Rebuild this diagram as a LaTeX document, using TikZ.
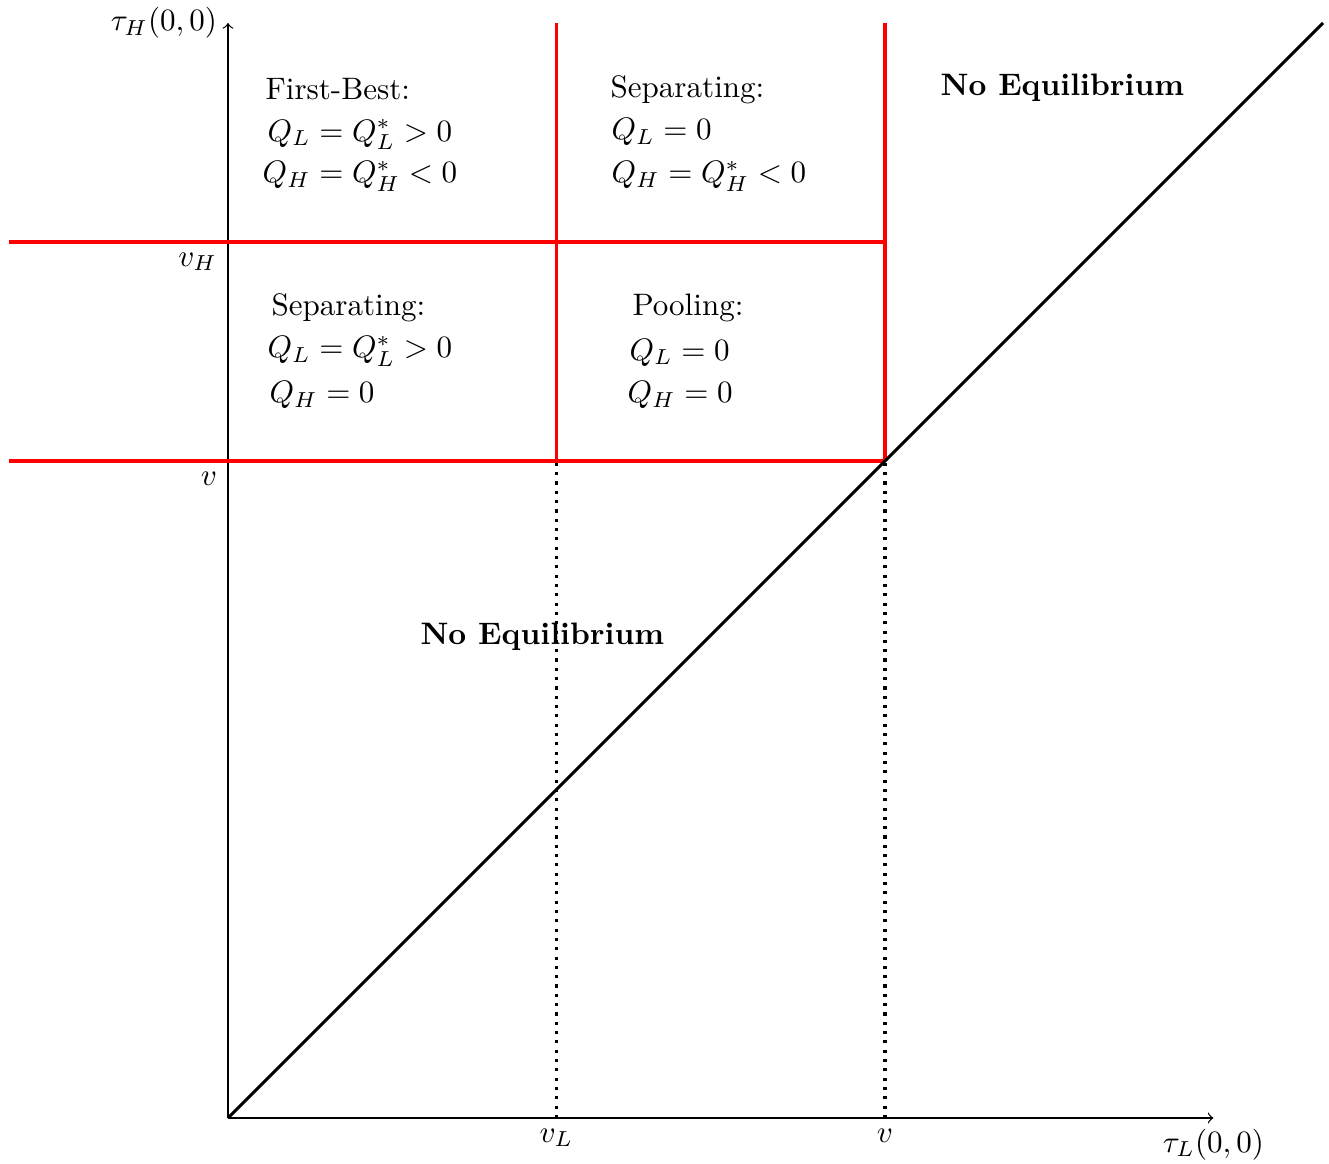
\documentclass[tikz,border=0pt]{standalone}
\begin{document}
\begin{tikzpicture}[x=1.2395cm,y=1.2395cm,
  lab/.style={anchor=base west, inner sep=0pt},
  redline/.style={red, line width=1pt},
  diag/.style={black, line width=1pt},
  dotline/.style={black, line width=1pt, dotted},
  axis/.style={->}]
\useasboundingbox (-2.082,-0.420) rectangle (10.055,10.210);
% coordinates
\coordinate (O) at (0,0);
\coordinate (xend) at (9,0);
\coordinate (yend) at (0,10);
\coordinate (dend) at (10,10);
\coordinate (hHa) at (-2,8);
\coordinate (hHb) at (6,8);
\coordinate (hVa) at (-2,6);
\coordinate (hVb) at (6,6);
\coordinate (vLb) at (3,6);
\coordinate (vLt) at (3,10);
\coordinate (vVt) at (6,10);
\coordinate (vLa) at (3,0);
\coordinate (vVa) at (6,0);
\coordinate (yH) at (0,8);
\coordinate (yV) at (0,6);
% axes
\draw[axis] (O) -- (xend);
\draw[axis] (O) -- (yend);
\node[below] (xlab) at (xend) {$\tau_L(0,0)$};
\node[left] (ylab) at (yend) {$\tau_H(0,0)$};
\node[below left] (vHlab) at (yH) {$v_H$};
\node[below left] (vlab) at (yV) {$v$};
\node[below] (vLlab) at (vLa) {$v_L$};
\node[below] (vxlab) at (vVa) {$v$};
% dotted
\draw[dotline] (vLa) -- (vLb);
\draw[dotline] (vVa) -- (hVb);
% red region lines
\draw[redline] (hHa) -- (hHb);
\draw[redline] (hVa) -- (hVb);
\draw[redline] (vLb) -- (vLt);
\draw[redline] (hVb) -- (vVt);
% diagonal
\draw[diag] (O) -- (dend);
% texts
\node[lab] (fb1) at (0.338,9.297) {First-Best:};
\node[lab] (fb2) at (0.356,8.922) {$Q_L=Q_L^*>0$};
\node[lab] (fb3) at (0.311,8.539) {$Q_H=Q_H^*<0$};
\node[lab] (sa1) at (3.489,9.324) {Separating:};
\node[lab] (sa2) at (3.498,8.932) {$Q_L=0$};
\node[lab] (sa3) at (3.498,8.539) {$Q_H=Q_H^*<0$};
\node[lab] (sb1) at (0.393,7.333) {Separating:};
\node[lab] (sb2) at (0.356,6.941) {$Q_L=Q_L^*>0$};
\node[lab] (sb3) at (0.374,6.530) {$Q_H=0$};
\node[lab] (po1) at (3.689,7.333) {Pooling:};
\node[lab] (po2) at (3.662,6.922) {$Q_L=0$};
\node[lab] (po3) at (3.644,6.530) {$Q_H=0$};
\node[lab] (ne1) at (6.502,9.342) {\textbf{No Equilibrium}};
\node[lab] (ne2) at (1.753,4.320) {\textbf{No Equilibrium}};
\end{tikzpicture}
\end{document}
